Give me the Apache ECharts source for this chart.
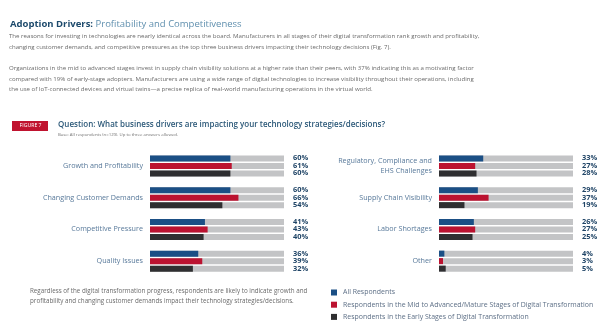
<!DOCTYPE html>
<html>
<head>
<meta charset="utf-8">
<script src="https://cdn.jsdelivr.net/npm/echarts@6/dist/echarts.min.js"></script>
<style>
  html, body { margin: 0; padding: 0; background: #fff; }
  #chart { width: 615px; height: 332px; }
</style>
</head>
<body>
<div id="chart"></div>
<script>
// Business drivers, split across two panels
const leftCategories = ['Growth and Profitability', 'Changing Customer Demands', 'Competitive Pressure', 'Quality Issues'];
const rightCategories = ['Regulatory, Compliance and\nEHS Challenges', 'Supply Chain Visibility', 'Labor Shortages', 'Other'];

// Percent of respondents per group
const seriesNames = [
  'All Respondents',
  'Respondents in the Mid to Advanced/Mature Stages of Digital Transformation',
  'Respondents in the Early Stages of Digital Transformation'
];
const leftAll = [60, 60, 41, 36];
const leftMid = [61, 66, 43, 39];
const leftEarly = [60, 54, 40, 32];
const rightAll = [33, 29, 26, 4];
const rightMid = [27, 37, 27, 3];
const rightEarly = [28, 19, 25, 5];

const colors = ['#1b4f85', '#bb1230', '#2f2f31'];
const trackColor = '#c3c4c6';
const FONT = '"Open Sans", "Noto Sans", sans-serif';

const leftValues = [leftAll, leftMid, leftEarly];
const rightValues = [rightAll, rightMid, rightEarly];

const grids = [
  { left: 150, top: 150, width: 134, height: 127 },
  { left: 439, top: 150, width: 134, height: 127 }
];

function catAxes(gridIndex, cats, showLabels) {
  return [
    {
      type: 'category', gridIndex, data: cats, inverse: true,
      axisLine: { show: false }, axisTick: { show: false },
      axisLabel: {
        show: showLabels, margin: 7, color: '#58799a', fontSize: 7.2,
        fontFamily: FONT, lineHeight: 10.5, align: 'right'
      }
    },
    {
      type: 'category', gridIndex, data: cats, inverse: true, show: false
    }
  ];
}

const yAxis = [
  ...catAxes(0, leftCategories, true),
  ...catAxes(1, rightCategories, true)
];
const xAxis = [0, 1].flatMap(g => [
  { type: 'value', gridIndex: g, min: 0, max: 100, show: false },
  { type: 'value', gridIndex: g, min: 0, max: 100, show: false }
]);

const series = [];
[leftValues, rightValues].forEach((vals, g) => {
  vals.forEach((arr, i) => {
    // grey track holding the value label at its end
    series.push({
      type: 'bar', name: 'track' + g + i, silent: true,
      xAxisIndex: g * 2 + 1, yAxisIndex: g * 2 + 1,
      barWidth: 6, barGap: '25%', z: 1,
      itemStyle: { color: trackColor },
      label: {
        show: true, position: 'right', distance: 9,
        formatter: p => arr[p.dataIndex] + '%',
        color: '#1f4466', fontSize: 7.4, fontWeight: 'bold', fontFamily: FONT
      },
      data: arr.map(() => 100)
    });
  });
  vals.forEach((arr, i) => {
    series.push({
      type: 'bar', name: seriesNames[i],
      xAxisIndex: g * 2, yAxisIndex: g * 2,
      barWidth: 6, barGap: '25%', z: 3,
      itemStyle: { color: colors[i] },
      data: arr
    });
  });
});

const bodyText = { fontFamily: FONT, fill: '#6a6a6a', fontSize: 6.1 };
function line(x, y, text, extra) {
  return { type: 'text', left: x, top: y, style: Object.assign({}, bodyText, { text }, extra || {}) };
}

const chart = echarts.init(document.getElementById('chart'));
chart.setOption({
  backgroundColor: '#ffffff',
  animation: false,
  title: {
    left: 10, top: 19.5, padding: 0,
    text: '{a|Adoption Drivers: }{b|Profitability and Competitiveness}',
    textStyle: {
      rich: {
        a: { fontFamily: FONT, fontSize: 9.5, fontWeight: 'bold', color: '#1d4a6c' },
        b: { fontFamily: FONT, fontSize: 9.5, fontWeight: 'normal', color: '#5f8fae' }
      }
    }
  },
  grid: grids,
  xAxis, yAxis, series,
  legend: {
    orient: 'vertical', left: 326, top: 284,
    itemWidth: 6, itemHeight: 6, itemGap: 5.2,
    icon: 'rect',
    data: seriesNames,
    textStyle: { fontFamily: FONT, fontSize: 6.95, color: '#5d6f86', padding: [0, 0, 0, 1] },
    selectedMode: false
  },
  graphic: [
    line(9, 33.5, 'The reasons for investing in technologies are nearly identical across the board. Manufacturers in all stages of their digital transformation rank growth and profitability,'),
    line(9, 44, 'changing customer demands, and competitive pressures as the top three business drivers impacting their technology decisions (Fig. 7).'),
    line(9, 65.5, 'Organizations in the mid to advanced stages invest in supply chain visibility solutions at a higher rate than their peers, with 37% indicating this as a motivating factor'),
    line(9, 76, 'compared with 19% of early-stage adopters. Manufacturers are using a wide range of digital technologies to increase visibility throughout their operations, including'),
    line(9, 86.5, 'the use of IoT-connected devices and virtual twins\u2014a precise replica of real-world manufacturing operations in the virtual world.'),
    {
      type: 'rect', left: 12, top: 121,
      shape: { width: 36, height: 10 },
      style: { fill: '#c0132f' }
    },
    line(19.5, 123.5, 'FIGURE 7', { fill: '#ffffff', fontSize: 5.2 }),
    line(58, 120.5, 'Question: What business drivers are impacting your technology strategies/decisions?', { fill: '#2b5878', fontSize: 8.0, fontWeight: 600 }),
    line(58, 132.5, 'Base: All respondents (n=129). Up to three answers allowed.', { fill: '#707070', fontSize: 4.3 }),
    line(30, 288.5, 'Regardless of the digital transformation progress, respondents are likely to indicate growth and', { fontSize: 6.25 }),
    line(30, 298, 'profitability and changing customer demands impact their technology strategies/decisions.', { fontSize: 6.25 })
  ]
});
</script>
</body>
</html>
